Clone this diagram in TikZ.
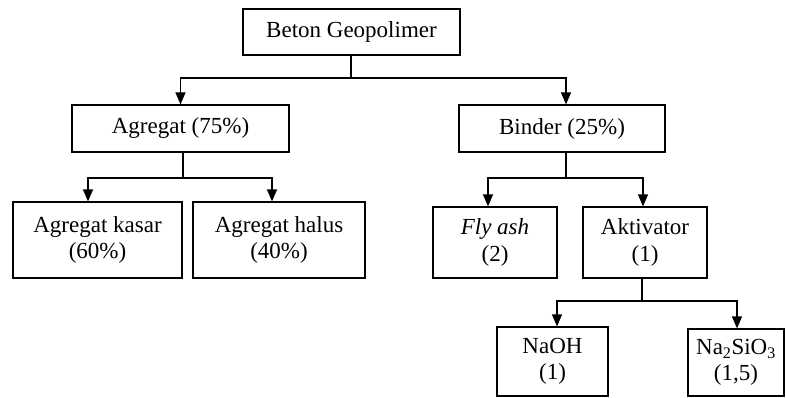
\documentclass[tikz,border=0pt]{standalone}
\usepackage{fontspec}
\setmainfont{Liberation Serif}
\usetikzlibrary{arrows.meta}
\begin{document}
\begin{tikzpicture}[x=1pt,y=-1pt,
  box/.style={draw, line width=1.2pt, inner sep=0pt, align=center, font=\fontsize{23}{26.5}\selectfont},
  conn/.style={line width=1.2pt},
  arr/.style={conn, -{Triangle[width=10pt,length=12pt]}}]
\useasboundingbox (0,0) rectangle (786,398);
% nodes
\node[box, minimum width=217pt, minimum height=46pt] (beton) at (351.5,32) {Beton Geopolimer};
\node[box, minimum width=217pt, minimum height=47pt] (agregat) at (180.5,128.5) {Agregat (75\%)};
\node[box, minimum width=206pt, minimum height=47pt] (binder) at (562,128.5) {Binder (25\%)};
\node[box, minimum width=169pt, minimum height=76pt] (kasar) at (97.5,240) {Agregat kasar\\(60\%)};
\node[box, minimum width=172pt, minimum height=76pt] (halus) at (279,240) {Agregat halus\\(40\%)};
\node[box, minimum width=124pt, minimum height=71pt] (flyash) at (495,242.5) {\textit{Fly ash}\\(2)};
\node[box, minimum width=124pt, minimum height=71pt] (aktivator) at (645,242.5) {Aktivator\\(1)};
\node[box, minimum width=111pt, minimum height=69pt] (naoh) at (552.5,361.5) {NaOH\\(1)};
\node[box, minimum width=96pt, minimum height=67pt] (nasio) at (736,362.5) {Na\textsubscript{2}SiO\textsubscript{3}\\(1,5)};
% junctions
\coordinate (j1) at (351,78);
\coordinate (j2) at (183,178);
\coordinate (j3) at (566,178);
\coordinate (j4) at (642,301);
% connectors
\draw[conn] (beton.south -| j1) -- (j1);
\draw[arr] (j1) -| (agregat.north);
\draw[arr] (j1) -| ([xshift=4pt]binder.north);
\draw[conn] (agregat.south -| j2) -- (j2);
\draw[arr] (j2) -| ([xshift=-9.5pt]kasar.north);
\draw[arr] (j2) -| ([xshift=-7pt]halus.north);
\draw[conn] (binder.south -| j3) -- (j3);
\draw[arr] (j3) -| ([xshift=-7pt]flyash.north);
\draw[arr] (j3) -| ([xshift=-2pt]aktivator.north);
\draw[conn] (aktivator.south -| j4) -- (j4);
\draw[arr] (j4) -| ([xshift=4.5pt]naoh.north);
\draw[arr] (j4) -| ([xshift=1pt]nasio.north);
\end{tikzpicture}
\end{document}
